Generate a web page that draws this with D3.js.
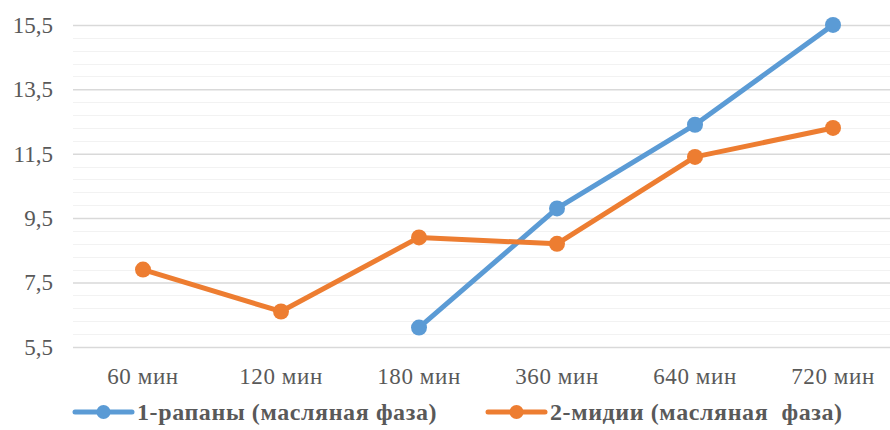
<!DOCTYPE html>
<html>
<head>
<meta charset="utf-8">
<script src="https://cdn.jsdelivr.net/npm/d3@7"></script>
<style>
  html, body { margin: 0; padding: 0; background: #fff; }
  svg { display: block; }
  .lbl { font-family: "Liberation Serif", "Times New Roman", Tinos, "DejaVu Serif", serif; }
</style>
</head>
<body>
<svg id="chart" width="890" height="430"></svg>
<script>
// Time points and measured values for both series
const categories = ["60 мин", "120 мин", "180 мин", "360 мин", "640 мин", "720 мин"];
const rapany = [null, null, 6.1, 9.8, 12.4, 15.5];
const midii = [7.9, 6.6, 8.9, 8.7, 11.4, 12.3];
const yTicks = [5.5, 7.5, 9.5, 11.5, 13.5, 15.5];
const seriesNames = ["1-рапаны (масляная фаза)", "2-мидии (масляная\u00a0\u00a0фаза)"];
const seriesColors = ["#5B9BD5", "#ED7D31"];

const svg = d3.select("#chart");

const x = d3.scaleBand().domain(categories).range([74, 902]);
const y = d3.scaleLinear().domain([5.5, 15.5]).range([346.9, 24.9]);

// Minor gridlines every 0.4, major ones at the labelled ticks
const minor = d3.range(5.5, 15.5001, 0.4).filter(v => !yTicks.some(t => Math.abs(t - v) < 1e-6));
svg.append("g").selectAll("line").data(minor).join("line")
  .attr("x1", 73).attr("x2", 902)
  .attr("y1", d => Math.round(y(d)) + 0.5).attr("y2", d => Math.round(y(d)) + 0.5)
  .attr("stroke", "#f2f2f2").attr("stroke-width", 1.2);

const yAxis = d3.axisLeft(y).tickValues(yTicks)
  .tickFormat(d => d3.format(".1f")(d).replace(".", ","))
  .tickSize(-829).tickSizeOuter(0).tickPadding(20);
const gy = svg.append("g").attr("transform", "translate(73,0)").call(yAxis);
gy.attr("font-family", null).attr("font-size", null);
gy.select(".domain").remove();
gy.selectAll(".tick line").attr("stroke", "#d9d9d9").attr("stroke-width", 1.5);
gy.selectAll(".tick text").attr("class", "lbl").attr("fill", "#595959")
  .style("font-size", "23px");

const xAxis = d3.axisBottom(x).tickSize(0).tickPadding(0);
const gx = svg.append("g").attr("transform", "translate(0,346.9)").call(xAxis);
gx.attr("font-family", null).attr("font-size", null);
gx.select(".domain").remove();
gx.selectAll(".tick text").attr("class", "lbl").attr("fill", "#595959").attr("dy", "1.62em")
  .style("font-size", "23px").style("letter-spacing", "0.6px");

const line = d3.line()
  .defined(d => d.v != null)
  .x(d => x(d.c) + x.bandwidth() / 2)
  .y(d => y(d.v));

[rapany, midii].forEach((vals, i) => {
  const pts = vals.map((v, j) => ({ c: categories[j], v }));
  const g = svg.append("g");
  g.append("path").datum(pts).attr("d", line)
    .attr("fill", "none").attr("stroke", seriesColors[i])
    .attr("stroke-width", 5).attr("stroke-linejoin", "round");
  g.selectAll("circle").data(pts.filter(d => d.v != null)).join("circle")
    .attr("cx", d => x(d.c) + x.bandwidth() / 2)
    .attr("cy", d => y(d.v))
    .attr("r", 8).attr("fill", seriesColors[i]);
});

// Legend
const legendX = [75, 488];
const legendY = 412;
seriesNames.forEach((name, i) => {
  const g = svg.append("g").attr("transform", `translate(${legendX[i]},${legendY})`);
  g.append("line").attr("x1", 0).attr("x2", 57).attr("y1", 0).attr("y2", 0)
    .attr("stroke", seriesColors[i]).attr("stroke-width", 5).attr("stroke-linecap", "round");
  g.append("circle").attr("cx", 28.5).attr("cy", 0).attr("r", 7).attr("fill", seriesColors[i]);
  g.append("text").attr("class", "lbl").attr("x", 62).attr("y", 0).attr("dy", "0.35em")
    .attr("fill", "#595959")
    .style("font-size", "24px").style("font-weight", "bold").style("letter-spacing", "0.6px")
    .text(name);
});
</script>
</body>
</html>
